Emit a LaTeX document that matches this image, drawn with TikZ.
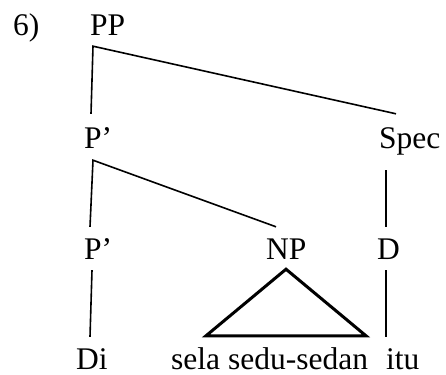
\documentclass[tikz,border=0pt]{standalone}
\usepackage{fontspec}
\setmainfont{Liberation Serif}
\begin{document}
\begin{tikzpicture}[x=1pt,y=-1pt,
  lbl/.style={anchor=base west,inner sep=0pt,text height=20pt,text depth=0pt,
    font=\fontsize{31.5}{36}\selectfont},
  branch/.style={line width=1.6pt},
  roof/.style={line width=3pt,line join=miter}]
\useasboundingbox (0,0) rectangle (446,374);

% labels
\node[lbl] (six)  at (13,36)  {6)};
\node[lbl] (pp)   at (90,36)  {PP};
\node[lbl] (p1)   at (84,148) {P’};
\node[lbl] (spec) at (379,148) {Spec};
\node[lbl] (p2)   at (84,259) {P’};
\node[lbl] (np)   at (266,259) {NP};
\node[lbl] (d)    at (377,259) {D};
\node[lbl] (di)   at (76,369) {Di};
\node[lbl] (sela) at (171,369) {sela sedu-sedan};
\node[lbl] (itu)  at (386,369) {itu};

% branches
\draw[branch] ([shift={(7,-14)}]p1.north west) -- ([shift={(3,10)}]pp.south west)
  -- ([shift={(17,-14)}]spec.north west);
\draw[branch] ([shift={(6,-12)}]p2.north west) -- ([shift={(9,12)}]p1.south west)
  -- ([shift={(10,-12)}]np.north west);
\draw[branch] ([shift={(7,22)}]spec.south west) -- ([shift={(9,-12)}]d.north west);
\draw[branch] ([shift={(8,11)}]p2.south west) -- ([shift={(14,-12)}]di.north west);
\draw[branch] ([shift={(9,11)}]d.south west) -- ([shift={(0,-12)}]itu.north west);

% roof over the NP
\draw[roof] ([shift={(20,10)}]np.south west) -- ([shift={(35,-13)}]sela.north west)
  -- ([shift={(195,-13)}]sela.north west) -- cycle;
\end{tikzpicture}
\end{document}
